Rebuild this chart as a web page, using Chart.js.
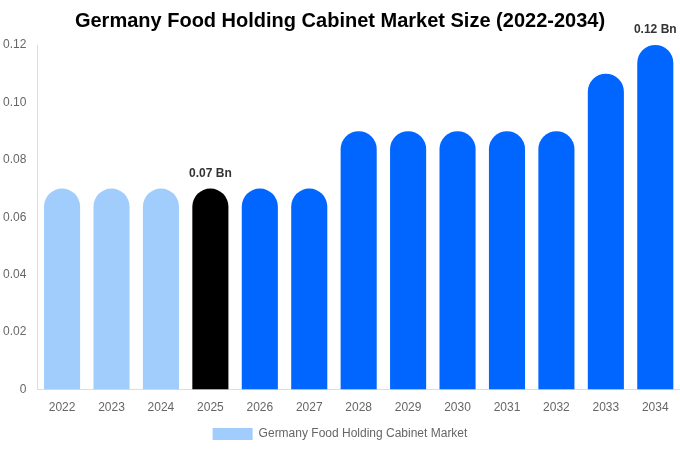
<!DOCTYPE html>
<html>
<head>
<meta charset="utf-8">
<script src="https://cdn.jsdelivr.net/npm/chart.js@4"></script>
<style>
  html, body { margin: 0; padding: 0; background: #fff; }
  #wrap { width: 680px; height: 450px; }
</style>
</head>
<body>
<div id="wrap"><canvas id="chart"></canvas></div>
<script>
const years = ['2022', '2023', '2024', '2025', '2026', '2027', '2028', '2029', '2030', '2031', '2032', '2033', '2034'];
const marketSize = [0.07, 0.07, 0.07, 0.07, 0.07, 0.07, 0.09, 0.09, 0.09, 0.09, 0.09, 0.11, 0.12];
const barColors = ['#a1cdfd', '#a1cdfd', '#a1cdfd', '#000000', '#0066ff', '#0066ff', '#0066ff', '#0066ff', '#0066ff', '#0066ff', '#0066ff', '#0066ff', '#0066ff'];
const labelled = ['2025', '2034'];

Chart.defaults.font.family = '"Liberation Sans", Arial, sans-serif';

// draw value labels above chosen bars
const valueLabels = {
    id: 'valueLabels',
    afterDatasetsDraw(chart) {
        const { ctx } = chart;
        const meta = chart.getDatasetMeta(0);
        ctx.save();
        ctx.font = 'bold 12px "Liberation Sans", Arial, sans-serif';
        ctx.fillStyle = '#333';
        ctx.textAlign = 'center';
        ctx.textBaseline = 'bottom';
        meta.data.forEach((bar, i) => {
            if (!labelled.includes(years[i])) return;
            ctx.fillText(marketSize[i].toFixed(2) + ' Bn', bar.x, bar.y - 9);
        });
        ctx.restore();
    }
};

new Chart(document.getElementById('chart'), {
    type: 'bar',
    data: {
        labels: years,
        datasets: [{
            label: 'Germany Food Holding Cabinet Market',
            data: marketSize,
            backgroundColor: barColors,
            borderRadius: { topLeft: 18, topRight: 18 },
            borderSkipped: 'bottom',
            barPercentage: 0.73,
            categoryPercentage: 1,
        }]
    },
    options: {
        responsive: true,
        maintainAspectRatio: false,
        animation: false,
        layout: { padding: { left: 0, right: 0, top: 0, bottom: 0 } },
        plugins: {
            title: {
                display: true,
                text: 'Germany Food Holding Cabinet Market Size (2022-2034)',
                color: '#000',
                font: { size: 20, weight: 'bold' },
                padding: { top: 9, bottom: 12 }
            },
            legend: {
                position: 'bottom',
                labels: {
                    color: '#666',
                    font: { size: 12 },
                    boxWidth: 40,
                    boxHeight: 12,
                    generateLabels: () => [{
                        text: 'Germany Food Holding Cabinet Market',
                        fillStyle: '#a1cdfd',
                        strokeStyle: '#a1cdfd',
                        lineWidth: 0,
                        fontColor: '#666'
                    }]
                }
            },
            tooltip: { enabled: false }
        },
        scales: {
            x: {
                grid: { display: false },
                border: { color: '#ddd' },
                ticks: { color: '#666', font: { size: 12 } }
            },
            y: {
                min: 0,
                max: 0.12,
                grid: { display: false },
                border: { color: '#ddd' },
                ticks: {
                    stepSize: 0.02,
                    color: '#666',
                    font: { size: 12 },
                    callback: v => v === 0 ? '0' : v.toFixed(2)
                }
            }
        }
    },
    plugins: [valueLabels]
});
</script>
</body>
</html>
